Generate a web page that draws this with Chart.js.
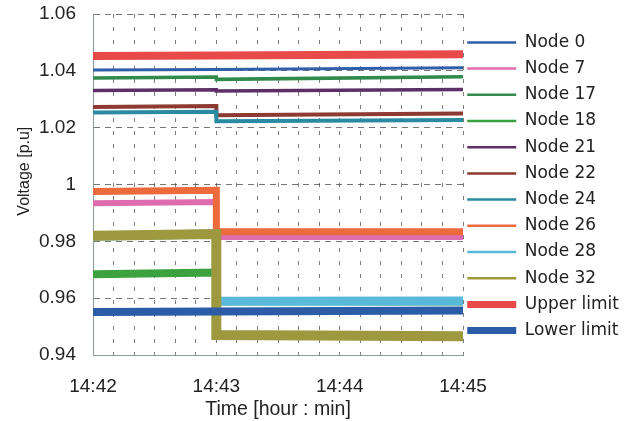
<!DOCTYPE html>
<html><head><meta charset="utf-8">
<script src="https://cdn.jsdelivr.net/npm/chart.js@4.4.1/dist/chart.umd.min.js"></script>
<style>
html,body{margin:0;padding:0;background:#fff;}
#wrap{width:642px;height:421px;position:relative;}
</style></head><body>
<div id="wrap"><canvas id="c" width="642" height="421"></canvas></div>
<script>
// time in seconds from 14:42 (step change at 14:43)
const timeSeconds = [0, 60, 60, 180];
const xTickLabels = ['14:42', '14:43', '14:44', '14:45'];
const yTickLabels = ['0.94', '0.96', '0.98', '1', '1.02', '1.04', '1.06'];
const seriesNames = ['Node 0', 'Node 7', 'Node 17', 'Node 18', 'Node 21', 'Node 22',
  'Node 24', 'Node 26', 'Node 28', 'Node 32', 'Upper limit', 'Lower limit'];

const node0  = [1.0403, 1.0405, 1.0405, 1.0411];
const node7  = [0.9934, 0.9938, 0.9815, 0.9815];
const node17 = [1.0375, 1.0378, 1.0370, 1.0379];
const node18 = [0.9684, 0.9690, 0.9589, 0.9588];
const node21 = [1.0331, 1.0333, 1.0329, 1.0334];
const node22 = [1.0273, 1.0276, 1.0244, 1.0250];
const node24 = [1.0253, 1.0256, 1.0223, 1.0227];
const node26 = [0.9975, 0.9980, 0.9834, 0.9834];
const node28 = [0.9818, 0.9826, 0.9589, 0.9590];
const node32 = [0.9820, 0.9826, 0.9470, 0.9466];
const upperLimit = [1.0452, 1.0454, 1.0454, 1.0458];
const lowerLimit = [0.9551, 0.9553, 0.9553, 0.9557];

const seriesValues = [node0, node7, node17, node18, node21, node22, node24, node26, node28, node32, upperLimit, lowerLimit];

// styles (kept separate from values)
const seriesColors = ['#2f5fa8', '#de6cae', '#2f8a4c', '#3ba23f', '#5e2f66', '#8c3a32',
  '#2a8aa2', '#ec6a3c', '#58bad8', '#9e983e', '#e84a4a', '#2c5ca8'];
const plotWidths = [3, 6, 3.5, 8, 3.5, 4, 4, 7, 9, 10, 8, 8];
const legendWidths = [2.5, 2.5, 2.5, 2.5, 2.5, 2.5, 2.5, 2.5, 2.5, 2.5, 7, 7];

const yMin = 0.94, yMax = 1.06, yStep = 0.02;

const datasets = seriesNames.map((name, i) => ({
  label: name,
  data: timeSeconds.map((t, k) => ({ x: t, y: seriesValues[i][k] })),
  borderColor: seriesColors[i],
  backgroundColor: seriesColors[i],
  borderWidth: plotWidths[i],
  pointRadius: 0,
  pointStyle: 'line',
  tension: 0,
  fill: false,
  order: -i
}));

// nudge the legend box slightly (closer to the plot, as in the original figure)
const legendNudge = {
  id: 'legendNudge',
  afterLayout(chart) {
    const lg = chart.legend;
    if (!lg) return;
    lg.left -= 5; lg.right -= 5;
    lg.top += 2; lg.bottom += 2;
  }
};

new Chart(document.getElementById('c'), {
  type: 'line',
  data: { datasets },
  plugins: [legendNudge],
  options: {
    responsive: false,
    animation: false,
    devicePixelRatio: 1,
    layout: { padding: { left: 0, right: 8, top: 0, bottom: 0 } },
    plugins: {
      tooltip: { enabled: false },
      legend: {
        position: 'right',
        align: 'center',
        fullSize: false,
        maxWidth: 220,
        labels: {
          usePointStyle: true,
          pointStyleWidth: 49,
          padding: 9.2,
          color: '#222',
          font: { family: 'DejaVu Sans', size: 17 },
          sort: (a, b) => a.datasetIndex - b.datasetIndex,
          generateLabels: (chart) => {
            const items = Chart.defaults.plugins.legend.labels.generateLabels(chart);
            items.forEach(it => { it.lineWidth = legendWidths[it.datasetIndex]; it.lineCap = 'butt'; });
            return items;
          }
        }
      }
    },
    scales: {
      x: {
        type: 'linear',
        min: 0, max: 180,
        afterFit: s => { s.height = 66; },
        ticks: {
          stepSize: 10,
          autoSkip: false,
          maxRotation: 0,
          padding: 20,
          color: '#222',
          font: { family: 'Liberation Sans', size: 19 },
          callback: (v) => (v % 60 === 0 ? xTickLabels[v / 60] : '')
        },
        grid: { color: 'rgba(70,70,70,0.7)', lineWidth: 1, drawTicks: false },
        border: { display: true, color: '#8f9c96', width: 1, dash: [4, 9] },
        title: {
          display: true, text: 'Time [hour : min]', color: '#222',
          font: { family: 'Liberation Sans', size: 19.5 },
          padding: { top: 0, bottom: 0 }
        }
      },
      y: {
        type: 'linear',
        min: yMin, max: yMax,
        afterFit: s => { s.width = 93; s.paddingTop = 14; s.paddingBottom = 12; },
        ticks: {
          stepSize: yStep,
          padding: 17,
          color: '#222',
          font: { family: 'Liberation Sans', size: 19 },
          callback: (v) => yTickLabels[Math.round((v - yMin) / yStep)]
        },
        grid: { color: 'rgba(60,60,60,0.7)', lineWidth: 1, drawTicks: false },
        border: { display: true, color: '#8f9c96', width: 1, dash: [6, 5] },
        title: {
          display: true, text: '\u00a0\u00a0\u00a0\u00a0\u00a0\u00a0Voltage [p.u]', color: '#222',
          font: { family: 'Liberation Sans', size: 16 },
          padding: { top: 15, bottom: 0 }
        }
      }
    }
  }
});
</script>
</body></html>
